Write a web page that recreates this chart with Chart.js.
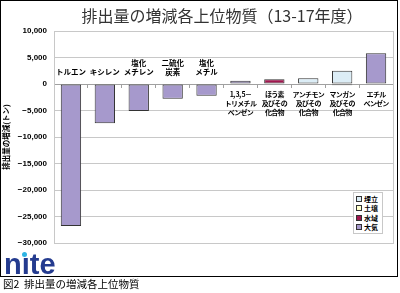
<!DOCTYPE html>
<html>
<head>
<meta charset="utf-8">
<script src="https://cdn.jsdelivr.net/npm/chart.js@4"></script>
<style>
  body { margin: 0; background: #fff; }
  #wrap { position: relative; width: 400px; height: 293px; }
  #wrap canvas { position: absolute; left: 0; top: 0; }
  .abs { position: absolute; }
  #frame { left: 0; top: 0; width: 396px; height: 275px; border: 1px solid #000; pointer-events: none; }
  #title { left: 72px; top: 5px; width: 300px; text-align: center; font: 16px/20px "Noto Sans CJK JP", sans-serif; color: #333; white-space: nowrap; }
  #legend { left: 353px; top: 192px; width: 28px; height: 38px; border: 1px solid #c8c8c8; background: #fff; padding-top: 2px; }
  .item { height: 9.3px; font: bold 7px/9.3px "Noto Sans CJK JP", sans-serif; color: #000; white-space: nowrap; }
  .sw { display: inline-block; width: 4px; height: 4px; border: 1px solid #333; margin: 0 2px 0 2px; vertical-align: 0px; }
  #logo { left: 4px; top: 250px; font: bold 29px/29px "Liberation Sans", Arial, sans-serif; color: #243b8f; }
  #dot { left: 22px; top: 252px; width: 5px; height: 5px; border-radius: 50%; background: #2fb4e3; }
  #caption { left: 3px; top: 278px; font: 10.5px/12px "Noto Sans CJK JP", sans-serif; color: #000; white-space: nowrap; }
</style>
</head>
<body>
<div id="wrap">
  <canvas id="myChart" width="400" height="293"></canvas>
  <div id="frame" class="abs"></div>
  <div id="title" class="abs">排出量の増減各上位物質（13-17年度）</div>
  <div id="legend" class="abs"></div>
  <div id="logo" class="abs">nıte</div>
  <div id="dot" class="abs"></div>
  <div id="caption" class="abs">図2&nbsp;&nbsp;排出量の増減各上位物質</div>
</div>
<script>
// categories (line breaks as in the picture)
const categories = [
  ["トルエン"],
  ["キシレン"],
  ["塩化", "メチレン"],
  ["二硫化", "炭素"],
  ["塩化", "メチル"],
  ["1, 3, 5－", "トリメチル", "ベンゼン"],
  ["ほう素", "及びその", "化合物"],
  ["アンチモン", "及びその", "化合物"],
  ["マンガン", "及びその", "化合物"],
  ["エチル", "ベンゼン"]
];

// change in releases (t), by medium
const air      = [-26800, -7400, -5100, -2800, -2200, 600, null, null, null, 5800];
const water    = [null, null, null, null, null, null, 900, null, -250, null];
const soil     = [null, null, null, null, null, null, null, null, null, null];
const landfill = [null, null, null, null, null, null, null, 1100, 2500, null];

const seriesNames = ["大気", "水域", "土壌", "埋立"];
const seriesColors = ["#a699cc", "#a0174f", "#ffffcc", "#dcedf6"];

const yTicksMin = -30000;
const yTicksMax = 10000;
const yStep = 5000;

// legend, reversed like the picture
const legendBox = document.getElementById("legend");
for (let i = seriesNames.length - 1; i >= 0; i--) {
  let d = document.createElement("div");
  d.className = "item";
  d.innerHTML = '<span class="sw" style="background:' + seriesColors[i] + '"></span>' + seriesNames[i];
  legendBox.appendChild(d);
}

// draws the category names at the zero line, above for falls, below for rises
const catLabels = {
  id: "catLabels",
  afterDatasetsDraw(chart) {
    const ctx = chart.ctx;
    const x = chart.scales.x;
    const y = chart.scales.y;
    const zero = y.getPixelForValue(0);
    ctx.save();
    ctx.fillStyle = "#000";
    ctx.textAlign = "center";
    ctx.textBaseline = "middle";
    for (let i = 0; i < categories.length; i++) {
      let total = (air[i] || 0) + (water[i] || 0) + (soil[i] || 0) + (landfill[i] || 0);
      let lines = categories[i];
      let cx = x.getPixelForValue(i);
      if (total < 0) {
        ctx.font = "bold 7.5px 'Noto Sans CJK JP'";
        ctx.letterSpacing = "0px";
        for (let j = 0; j < lines.length; j++) {
          ctx.fillText(lines[j], cx, zero - 11.5 - (lines.length - 1 - j) * 9.4);
        }
      } else {
        ctx.font = "bold 7px 'Noto Sans CJK JP'";
        ctx.letterSpacing = "-0.7px";
        for (let j = 0; j < lines.length; j++) {
          ctx.fillText(lines[j], cx, zero + 10.5 + j * 8.8);
        }
      }
    }
    ctx.restore();
  }
};

const plotBox = {
  id: "plotBox",
  beforeDatasetsDraw(chart) {
    const a = chart.chartArea;
    const ctx = chart.ctx;
    ctx.save();
    ctx.strokeStyle = "#c8c8c8";
    ctx.lineWidth = 1;
    ctx.strokeRect(Math.round(a.left) + 0.5, Math.round(a.top) + 0.5, Math.round(a.right - a.left), Math.round(a.bottom - a.top));
    ctx.restore();
  }
};

function makeSet(i, values) {
  return {
    label: seriesNames[i],
    data: values,
    backgroundColor: seriesColors[i],
    borderColor: "#333",
    borderWidth: 1,
    borderSkipped: false,
    categoryPercentage: 0.6,
    barPercentage: 1
  };
}

const ctx = document.getElementById("myChart").getContext("2d");
const myChart = new Chart(ctx, {
  type: "bar",
  data: {
    labels: categories.map(c => c.join("")),
    datasets: [makeSet(0, air), makeSet(1, water), makeSet(2, soil), makeSet(3, landfill)]
  },
  options: {
    responsive: false,
    animation: false,
    layout: { padding: { top: 31, bottom: 50, right: 7, left: 0 } },
    plugins: {
      legend: { display: false },
      tooltip: { enabled: false },
      title: { display: false }
    },
    scales: {
      x: {
        stacked: true,
        position: { y: 0 },
        ticks: { display: false },
        grid: { display: true, drawOnChartArea: false, drawTicks: true, tickLength: 3, color: "#a0a0a0", offset: true },
        border: { display: true, color: "#a0a0a0" }
      },
      y: {
        stacked: true,
        min: yTicksMin,
        max: yTicksMax,
        ticks: {
          stepSize: yStep,
          padding: 7,
          color: "#000",
          font: { family: "'Liberation Sans', Arial", size: 8, weight: "bold" },
          callback: v => (v < 0 ? "\u2212" : "") + Math.abs(v).toLocaleString("en-US")
        },
        grid: { color: "#c8c8c8", drawTicks: false },
        border: { display: false },
        title: {
          display: true,
          text: "排出量の増減(トン)",
          color: "#000",
          font: { family: "'Noto Sans CJK JP'", size: 7.5, weight: "bold" },
          padding: { top: 2, bottom: 0 }
        },
        afterFit(scale) { scale.width = 54; }
      }
    }
  },
  plugins: [plotBox, catLabels]
});
</script>
</body>
</html>
